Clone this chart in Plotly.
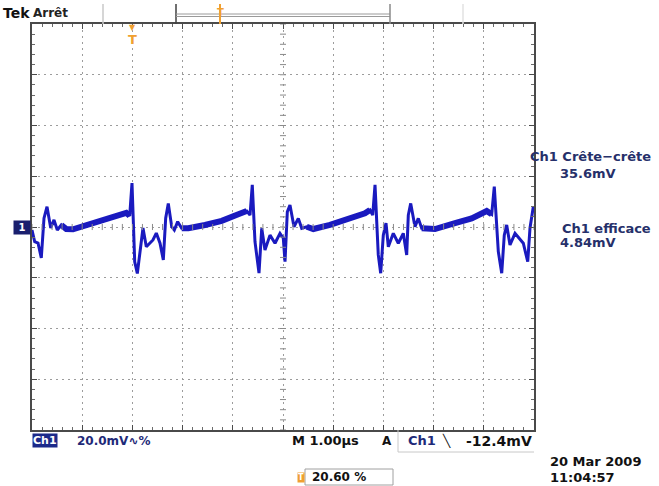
import plotly.graph_objects as go

# ---- acquired trace: time in microseconds, amplitude in millivolts ----
T_US = [0.00, 0.054, 0.12, 0.185, 0.239, 0.299, 0.373, 0.438, 0.504, 0.584, 0.683, 0.817,
        1.116, 1.514, 1.878, 1.946, 1.992, 2.046, 2.098, 2.165, 2.211, 2.277, 2.410, 2.476,
        2.550, 2.616, 2.663, 2.715, 2.783, 2.835, 2.902, 2.982, 3.114, 3.446, 3.779, 4.110,
        4.277, 4.343, 4.388, 4.442, 4.522, 4.576, 4.641, 4.741, 4.841, 4.940, 5.006, 5.040,
        5.086, 5.139, 5.219, 5.305, 5.373, 5.472, 5.604, 5.936, 6.269, 6.633, 6.733, 6.787,
        6.833, 6.898, 6.946, 6.998, 7.052, 7.098, 7.197, 7.297, 7.396, 7.464, 7.496, 7.544,
        7.629, 7.695, 7.763, 7.894, 8.028, 8.426, 8.759, 9.058, 9.157, 9.209, 9.289, 9.357,
        9.408, 9.456, 9.522, 9.622, 9.721, 9.787, 9.875, 9.920, 9.986]
V_MV = [-1.2, -5.8, -6.3, -12.2, 3.5, 8.0, -0.4, 2.8, -1.2, 0.8, -0.8, -0.9,
        0.8, 3.0, 5.6, 4.4, 17.3, -13.7, -18.3, -7.8, -0.4, -7.8, -5.1, -2.4,
        -6.4, -13.0, 3.5, 9.3, 0.1, -1.2, 2.1, -0.5, -0.5, 0.8, 2.4, 5.0,
        6.3, 4.7, 16.6, -5.8, -18.2, -0.5, -9.1, -3.2, -6.4, -2.5, -4.4, -13.7,
        6.0, 8.7, 0.1, 3.4, -0.5, 0.1, -0.8, 0.8, 2.8, 5.4, 6.7, 4.7,
        16.6, -11.0, -18.2, -3.2, 1.5, -7.8, -2.5, -6.4, -2.5, -11.0, 4.7, 9.3,
        0.1, 3.4, -0.5, -0.5, -0.8, 1.5, 3.4, 6.3, 5.0, 15.9, -9.7, -18.2,
        -3.2, 0.8, -7.1, -2.5, -5.1, -6.4, -13.7, -0.5, 8.0]

# slow ramp portions between switching edges (drawn as a wider phosphor band)
RAMP_SPANS_US = [(0.55, 1.95), (2.95, 4.30), (5.38, 6.74), (7.76, 9.16)]

# scope settings and readouts
VOLTS_PER_DIV = 20.0
TIME_PER_DIV = 1.0
H_DIVS, V_DIVS = 10, 8
TRIG_T_US = 2.0
READOUTS = [("Ch1 Crête−crête", "35.6mV"), ("Ch1 efficace", "4.84mV")]

W, H = 659, 486
L, R, TOP, BOT = 32, 534, 24, 430
NAVY = "#1e2a78"
TRACE = "#1a1abf"
ORANGE = "#f0a030"
FONT = "DejaVu Sans"


def px(x):
    return (x - L) / (R - L)


def py(y):
    return (BOT - y) / (BOT - TOP)


ymax = VOLTS_PER_DIV * V_DIVS / 2
xmax = TIME_PER_DIV * H_DIVS

fig = go.Figure()

# ramp band
rx, ry = [], []
for a, b in RAMP_SPANS_US:
    for t, v in zip(T_US, V_MV):
        if a <= t <= b:
            rx.append(t)
            ry.append(v)
    rx.append(None)
    ry.append(None)
fig.add_trace(go.Scatter(x=rx, y=ry, mode="lines", line=dict(color=TRACE, width=6),
                         hoverinfo="skip", showlegend=False))
fig.add_trace(go.Scatter(x=T_US, y=V_MV, mode="lines", line=dict(color=TRACE, width=3),
                         showlegend=False))

axis_common = dict(showticklabels=False, showline=True, linecolor="#4a4a4a", linewidth=2,
                   mirror="allticks", ticks="inside", ticklen=5, tickcolor="#4a4a4a",
                   showgrid=True, gridcolor="#9c9c9c", gridwidth=1, griddash="2px,4px",
                   zeroline=False, fixedrange=True)
fig.update_xaxes(range=[0, xmax], dtick=TIME_PER_DIV, tick0=0,
                 minor=dict(dtick=TIME_PER_DIV / 5, ticks="inside", ticklen=3, tickcolor="#6a6a6a",
                            showgrid=False), **axis_common)
fig.update_yaxes(range=[-ymax, ymax], dtick=VOLTS_PER_DIV, tick0=0,
                 minor=dict(dtick=VOLTS_PER_DIV / 5, ticks="inside", ticklen=3, tickcolor="#6a6a6a",
                            showgrid=False), **axis_common)

shapes = []
# tick marks on the centre cross
xc = xmax / 2
hx = 0.06 * TIME_PER_DIV
hy = 0.06 * VOLTS_PER_DIV
for i in range(H_DIVS * 5 + 1):
    t = i * TIME_PER_DIV / 5
    shapes.append(dict(type="line", xref="x", yref="y", x0=t, x1=t, y0=-hy, y1=hy,
                       line=dict(color="#8a8a8a", width=1)))
for i in range(V_DIVS * 5 + 1):
    v = -ymax + i * VOLTS_PER_DIV / 5
    shapes.append(dict(type="line", xref="x", yref="y", x0=xc - hx, x1=xc + hx, y0=v, y1=v,
                       line=dict(color="#8a8a8a", width=1)))


def pline(x0, y0, x1, y1, color, width=1):
    shapes.append(dict(type="line", xref="paper", yref="paper", x0=px(x0), x1=px(x1),
                       y0=py(y0), y1=py(y1), line=dict(color=color, width=width)))


# header bar
pline(103, 4, 103, TOP, "#c8c8c8", 1.5)
pline(176, 4, 176, TOP, "#404040", 1.5)
pline(176, 14, 390, 14, "#9a9a9a", 1)
pline(176, 16.5, 390, 16.5, "#9a9a9a", 1)
pline(390, 4, 390, TOP, "#8a8a8a", 1.5)
pline(463, 4, 463, TOP, "#e2e2e2", 1.5)
pline(220, 4, 220, TOP, ORANGE, 2)
# bottom readout boxes
pline(398, BOT, 398, 452, "#c8c8c8", 1)
pline(398, 452, R, 452, "#c8c8c8", 1)
shapes.append(dict(type="rect", xref="paper", yref="paper", x0=px(305), x1=px(393),
                   y0=py(485), y1=py(469), line=dict(color="#a0a0a0", width=1)))

ann = []


def text(x, y, s, size=12, color="black", xanchor="center", bold=True, bg=None):
    ann.append(dict(xref="paper", yref="paper", x=px(x), y=py(y), text=s, showarrow=False,
                    xanchor=xanchor, yanchor="middle", bgcolor=bg, borderpad=0,
                    font=dict(family=FONT, size=size, color=color,
                              weight="bold" if bold else "normal")))


text(2, 13, "Tek", 14, "#111", "left")
text(32, 13, "Arrêt", 12, "#222", "left")
text(220, 12, "T", 10, ORANGE)

# trigger position marker
ann.append(dict(xref="x", yref="paper", x=TRIG_T_US, y=py(28), text="▼", showarrow=False,
                yanchor="middle", font=dict(family=FONT, size=8, color=ORANGE)))
ann.append(dict(xref="x", yref="paper", x=TRIG_T_US, y=py(40), text="T", showarrow=False,
                yanchor="middle", font=dict(family=FONT, size=13, color=ORANGE, weight="bold")))

# channel ground marker
ann.append(dict(xref="paper", yref="y", x=0, y=0, xanchor="right", xshift=-1, text=" 1 ",
                showarrow=False, yanchor="middle", bgcolor="#1a1f6e", borderpad=1,
                font=dict(family=FONT, size=10, color="white", weight="bold")))

# measurement readouts
ry_pos = [(156, 173), (228, 242)]
for (lab, val), (y1, y2) in zip(READOUTS, ry_pos):
    text(652, y1, lab, 13, "#26306a", "right")
    text(588, y2, val, 13, "#26306a")

# status line
text(45, 441, "Ch1", 11, "white", bg="#1c2a8a")
text(76, 441, "20.0mV∿%", 12, NAVY, "left")
text(291, 441, "M 1.00µs", 13, "#111", "left")
text(387, 441, "A", 12, "#111")
text(407, 441, "Ch1", 13, NAVY, "left")
text(446, 441, "╲", 12, "#111")
text(533, 441, "-12.4mV", 14, "#111", "right")
text(301, 477, "T", 8, "white", bg=ORANGE)
text(311, 477, "20.60 %", 12, "#111", "left")
text(549, 462, "20 Mar 2009", 13, "#111", "left")
text(549, 477, "11:04:57", 13, "#111", "left")

fig.update_layout(width=W, height=H, margin=dict(l=L, r=W - R, t=TOP, b=H - BOT),
                  paper_bgcolor="white", plot_bgcolor="white", shapes=shapes,
                  annotations=ann, showlegend=False)

fig.write_html("out.html")
